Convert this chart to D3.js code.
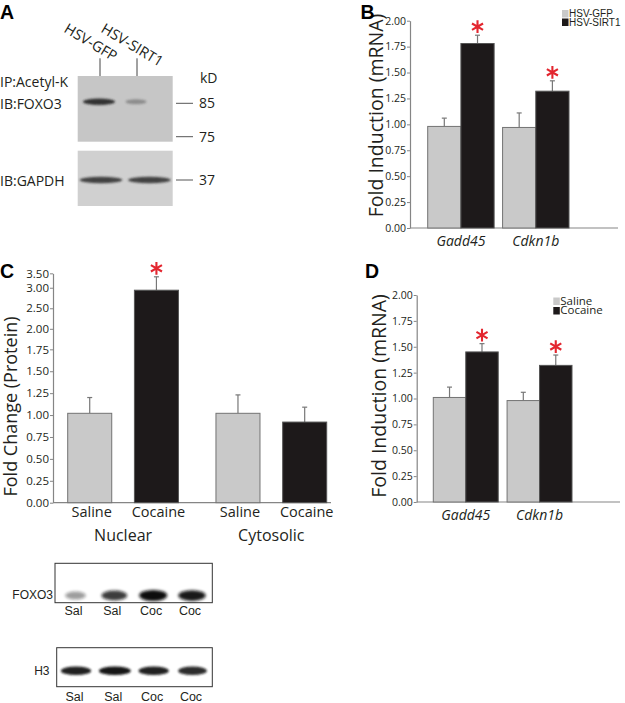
<!DOCTYPE html>
<html><head><meta charset="utf-8">
<script src="https://cdn.jsdelivr.net/npm/d3@7"></script>
<style>body{margin:0;background:#fff}svg{display:block}</style>
</head><body>
<svg id="fig" width="625" height="703"></svg>
<script>
// ---------------- data ----------------
const bGenes = ["Gadd45", "Cdkn1b"];
const bSeries = ["HSV-GFP", "HSV-SIRT1"];
const bMeans = [[0.98, 1.78], [0.97, 1.32]];
const bSem = [[0.08, 0.08], [0.14, 0.10]];
const bSig = [[false, true], [false, true]];
const bTicks = [0, 0.25, 0.5, 0.75, 1, 1.25, 1.5, 1.75, 2];

const cCompartments = ["Nuclear", "Cytosolic"];
const cTreatments = ["Saline", "Cocaine"];
const cMeans = [[1.02, 2.94], [1.02, 0.92]];
const cSem = [[0.18, 0.44], [0.21, 0.17]];
const cSig = [[false, true], [false, false]];
const cTicks = [0, 0.25, 0.5, 0.75, 1, 1.25, 1.5, 1.75, 2, 2.5, 3, 3.5];

const dGenes = ["Gadd45", "Cdkn1b"];
const dSeries = ["Saline", "Cocaine"];
const dMeans = [[1.01, 1.45], [0.98, 1.32]];
const dSem = [[0.10, 0.08], [0.08, 0.10]];
const dSig = [[false, true], [false, true]];
const dTicks = [0, 0.25, 0.5, 0.75, 1, 1.25, 1.5, 1.75, 2];

const aLanes = ["HSV-GFP", "HSV-SIRT1"];
const aFoxo3 = [0.9, 0.35];
const aGapdh = [0.85, 0.85];
const aMarkers = ["85", "75", "37"];
const cLanes = ["Sal", "Sal", "Coc", "Coc"];
const cFoxo3 = [0.4, 0.8, 1.0, 0.95];
const cH3 = [0.95, 1.0, 0.95, 0.9];

// ---------------- setup ----------------
const svg = d3.select("#fig");
const FONT = "'Open Sans','Noto Sans',sans-serif";
const NARROW = "'Liberation Sans Narrow','Liberation Sans',Arial,sans-serif";
const ARIAL = "'Liberation Sans',Arial,sans-serif";
const INK = "#231f20";
const AXIS = "#858585";
const fills = ["#c9c9c9", "#1d191a"];
const strokes = ["#737373", "#555"];
const RED = "#e3262f";

const defs = svg.append("defs");
[["blur1", 1.2], ["blur2", 1.6]].forEach(([id, s]) => {
  defs.append("filter").attr("id", id).attr("x", "-50%").attr("y", "-100%").attr("width", "200%").attr("height", "300%")
    .append("feGaussianBlur").attr("stdDeviation", s);
});

function txt(g, x, y, s, size, opts = {}) {
  return g.append("text").attr("x", x).attr("y", y).text(s)
    .attr("font-family", opts.family || FONT).attr("font-size", size)
    .attr("font-weight", opts.weight || "normal").attr("font-style", opts.style || "normal")
    .attr("text-anchor", opts.anchor || "start").attr("fill", opts.fill || INK);
}

function asterisk(g, x, y) {
  if (d3.symbolAsterisk) {
    g.append("path").attr("d", d3.symbol(d3.symbolAsterisk, 115)())
      .attr("transform", `translate(${x},${y})`).attr("fill", "none")
      .attr("stroke", RED).attr("stroke-width", 2.1);
  } else {
    txt(g, x, y + 9, "*", 24, { anchor: "middle", fill: RED });
  }
}

function barPanel(cfg) {
  const g = svg.append("g");
  const y = cfg.y;
  const outer = d3.scaleBand().domain(cfg.groups).range(cfg.groupRange)
    .paddingInner(cfg.padGroups).paddingOuter(0);
  const inner = d3.scaleBand().domain(cfg.series).range([0, outer.bandwidth()])
    .paddingInner(cfg.padInner || 0);
  const ax = g.append("g").attr("transform", `translate(${cfg.axisX},0)`)
    .call(d3.axisLeft(y).tickValues(cfg.ticks).tickFormat(d3.format(".2f"))
      .tickSize(3).tickSizeOuter(0).tickPadding(1));
  ax.select(".domain").attr("stroke", AXIS).attr("stroke-width", 1.2);
  ax.selectAll(".tick line").attr("stroke", AXIS);
  ax.selectAll(".tick text").attr("font-family", FONT).attr("font-size", cfg.tickFont).attr("fill", INK);
  g.append("line").attr("x1", cfg.axisX).attr("x2", cfg.axisEnd)
    .attr("y1", y(0)).attr("y2", y(0)).attr("stroke", AXIS).attr("stroke-width", 1.2);

  cfg.groups.forEach((grp, gi) => {
    cfg.series.forEach((s, si) => {
      const x = outer(grp) + inner(s), w = inner.bandwidth();
      const v = cfg.means[gi][si], e = cfg.sem[gi][si], cx = x + w / 2;
      g.append("line").attr("x1", cx).attr("x2", cx).attr("y1", y(v)).attr("y2", y(v + e))
        .attr("stroke", "#777").attr("stroke-width", 1.2);
      g.append("line").attr("x1", cx - 2.5).attr("x2", cx + 2.5).attr("y1", y(v + e)).attr("y2", y(v + e))
        .attr("stroke", "#777").attr("stroke-width", 1.2);
      g.append("rect").attr("x", x).attr("y", y(v)).attr("width", w).attr("height", y(0) - y(v))
        .attr("fill", fills[si]).attr("stroke", strokes[si]).attr("stroke-width", 1);
      if (cfg.sig[gi][si]) asterisk(g, cx, y(v + e) - 8.5);
      if (cfg.seriesLabelY) txt(g, cx + 2, cfg.seriesLabelY, s, cfg.seriesFont, { anchor: "middle" });
    });
    const gc = outer(grp) + outer.bandwidth() / 2;
    txt(g, gc, cfg.groupLabelY, grp, cfg.groupFont, { anchor: "middle", style: cfg.groupStyle || "normal" });
  });

  txt(g, 0, 0, cfg.yLabel, cfg.yLabelFont, { anchor: "middle" })
    .attr("transform", `translate(${cfg.yLabelPos[0]},${cfg.yLabelPos[1]}) rotate(-90)`);

  if (cfg.legend) {
    const [lx, ly, step, fs, fam] = cfg.legend;
    cfg.series.forEach((s, si) => {
      g.append("rect").attr("x", lx).attr("y", ly + si * step).attr("width", 6.5).attr("height", 7.5)
        .attr("fill", fills[si]);
      txt(g, lx + 7, ly + si * step + 7.3, s, fs, { family: fam });
    });
  }
  return g;
}

// ---------------- panel B ----------------
barPanel({
  y: d3.scaleLinear().domain([0, 2]).range([228, 20.7]),
  axisX: 410, axisEnd: 618, groupRange: [427.7, 569], padGroups: 0.113,
  groups: bGenes, series: bSeries, means: bMeans, sem: bSem, sig: bSig, ticks: bTicks,
  tickFont: 10.5, groupLabelY: 246, groupFont: 14, groupStyle: "italic",
  yLabel: "Fold Induction (mRNA)", yLabelFont: 19.5, yLabelPos: [383, 115.5],
  legend: [562, 10, 8.5, 10, ARIAL]
});

// ---------------- panel C ----------------
const cSteps = cTicks.map((t, i) => i === 0 ? 0 : (i < 8 ? 21.91 : (i < 11 ? 20.53 : 14.4)));
const cRange = d3.cumsum(cSteps).map(s => 502.7 - s);
barPanel({
  y: d3.scaleLinear().domain(cTicks).range(Array.from(cRange)),
  axisX: 53, axisEnd: 331, groupRange: [67.7, 326.7], padGroups: 0.253, padInner: 0.34,
  groups: cCompartments, series: cTreatments, means: cMeans, sem: cSem, sig: cSig, ticks: cTicks,
  tickFont: 11.5, seriesLabelY: 517, seriesFont: 14.5, groupLabelY: 541, groupFont: 16,
  yLabel: "Fold Change (Protein)", yLabelFont: 18, yLabelPos: [17, 406.5]
});

// ---------------- panel D ----------------
barPanel({
  y: d3.scaleLinear().domain([0, 2]).range([502, 295]),
  axisX: 416.7, axisEnd: 620, groupRange: [433.3, 572], padGroups: 0.12,
  groups: dGenes, series: dSeries, means: dMeans, sem: dSem, sig: dSig, ticks: dTicks,
  tickFont: 10.5, groupLabelY: 520, groupFont: 14, groupStyle: "italic",
  yLabel: "Fold Induction (mRNA)", yLabelFont: 19.5, yLabelPos: [386, 396],
  legend: [553.3, 297.5, 9.5, 11.5, FONT]
});

// ---------------- panel A (western blot) ----------------
const gA = svg.append("g");
const aBox = { x: 77.7, w: 95 };
gA.append("rect").attr("x", aBox.x).attr("y", 76).attr("width", aBox.w).attr("height", 65.7).attr("fill", "#c6c6c6");
gA.append("rect").attr("x", aBox.x).attr("y", 150.7).attr("width", aBox.w).attr("height", 55.3).attr("fill", "#d0d0d0");
const aPt = d3.scalePoint().domain(aLanes).range([100, 137]);
const aBand = d3.scaleBand().domain(aLanes).range([aBox.x, aBox.x + aBox.w]).paddingInner(0.08).paddingOuter(0.02);
aLanes.forEach((l, i) => {
  gA.append("line").attr("x1", aPt(l)).attr("x2", aPt(l)).attr("y1", 58.3).attr("y2", 76)
    .attr("stroke", "#444").attr("stroke-width", 1);
  txt(gA, 0, 0, l, 14.5).attr("transform", `translate(${aPt(l) - 37},${31.5}) rotate(31)`);
  gA.append("ellipse").attr("cx", aPt(l) - 1).attr("cy", 101.7)
    .attr("rx", 7 + 10 * aFoxo3[i]).attr("ry", 2 + 1.4 * aFoxo3[i])
    .attr("fill", "#222").attr("opacity", aFoxo3[i]).attr("filter", "url(#blur1)");
  gA.append("ellipse").attr("cx", aBand(l) + aBand.bandwidth() / 2).attr("cy", 180)
    .attr("rx", aBand.bandwidth() / 2 - 1).attr("ry", 3.3)
    .attr("fill", "#2a2a2a").attr("opacity", aGapdh[i]).attr("filter", "url(#blur1)");
});
txt(gA, 0, 87.3, "IP:Acetyl-K", 14);
txt(gA, 0, 109.3, "IB:FOXO3", 14);
txt(gA, 0, 185.7, "IB:GAPDH", 14);
txt(gA, 200, 83.3, "kD", 14);
const markerY = [103.3, 136.7, 180];
aMarkers.forEach((m, i) => {
  gA.append("line").attr("x1", 176).attr("x2", 193).attr("y1", markerY[i]).attr("y2", markerY[i])
    .attr("stroke", "#555").attr("stroke-width", 1);
  txt(gA, 199, markerY[i] + 5, m, 14);
});

// ---------------- panel C blots ----------------
const gCb = svg.append("g");
const cPt = d3.scalePoint().domain(d3.range(cLanes.length)).range([75.5, 192]);
gCb.append("rect").attr("x", 55).attr("y", 563.3).attr("width", 157.3).attr("height", 39.4)
  .attr("fill", "#fff").attr("stroke", "#333").attr("stroke-width", 1);
gCb.append("rect").attr("x", 56.7).attr("y", 647.7).attr("width", 155.6).attr("height", 39)
  .attr("fill", "#fff").attr("stroke", "#333").attr("stroke-width", 1);
cLanes.forEach((l, i) => {
  gCb.append("ellipse").attr("cx", cPt(i)).attr("cy", 595.5)
    .attr("rx", 8 + 6 * cFoxo3[i]).attr("ry", 3 + 2.5 * cFoxo3[i])
    .attr("fill", "#111").attr("opacity", cFoxo3[i]).attr("filter", "url(#blur2)");
  gCb.append("ellipse").attr("cx", cPt(i) + 0.5).attr("cy", 670.7)
    .attr("rx", 16 * cH3[i]).attr("ry", 4.3)
    .attr("fill", "#151515").attr("opacity", cH3[i]).attr("filter", "url(#blur1)");
  txt(gCb, cPt(i) - 2, 615, l, 12.5, { family: NARROW, anchor: "middle" });
  txt(gCb, cPt(i) - 1, 701, l, 12.5, { family: NARROW, anchor: "middle" });
});
txt(gCb, 53, 599, "FOXO3", 12, { family: NARROW, anchor: "end" });
txt(gCb, 49.5, 675, "H3", 12, { family: NARROW, anchor: "end" });

// ---------------- panel letters ----------------
[["A", 0, 18.5], ["B", 360.5, 18.5], ["C", 0, 278], ["D", 365, 278]].forEach(([s, x, y]) =>
  txt(svg, x, y, s, 19.5, { family: ARIAL, weight: "bold", fill: "#000" }));
</script>
</body></html>
